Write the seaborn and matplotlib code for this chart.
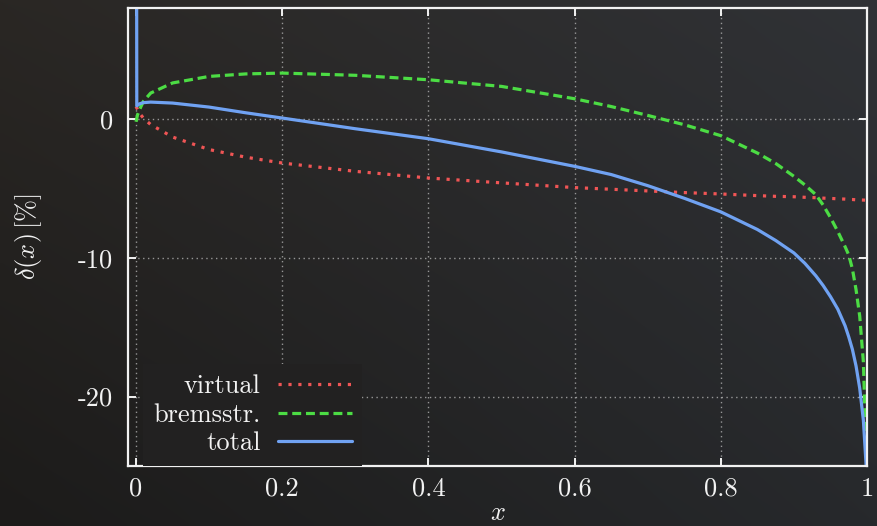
import numpy as np
import pandas as pd
import matplotlib
matplotlib.use("Agg")
import matplotlib.pyplot as plt
import seaborn as sns

# values
x_vals = [0.0, 0.002, 0.005, 0.01, 0.02, 0.05, 0.1, 0.15, 0.2, 0.3, 0.4, 0.5,
          0.6, 0.65, 0.7, 0.75, 0.8, 0.85, 0.875, 0.9, 0.915, 0.93, 0.94, 0.95,
          0.96, 0.97, 0.975, 0.98, 0.985, 0.99, 0.995, 1.0]
virtual = [0.9, 0.7, 0.4, 0.07, -0.4, -1.3, -2.2, -2.75, -3.17, -3.77, -4.25, -4.6,
           -4.94, -5.06, -5.18, -5.3, -5.4, -5.52, -5.57, -5.6, -5.64, -5.67, -5.7, -5.72,
           -5.75, -5.77, -5.79, -5.8, -5.82, -5.83, -5.84, -5.85]
bremsstr = [-0.2, 0.3, 0.7, 1.27, 1.87, 2.6, 3.07, 3.25, 3.31, 3.15, 2.83, 2.35,
            1.46, 0.9, 0.26, -0.41, -1.2, -2.45, -3.2, -4.13, -4.75, -5.45, -6.2, -7.1,
            -8.1, -9.2, -9.8, -10.8, -12.3, -14.2, -17.5, -26.0]
x_total = [0.0, 0.001, 0.005, 0.01, 0.02, 0.05, 0.1, 0.15, 0.2, 0.3, 0.4, 0.5,
           0.6, 0.65, 0.7, 0.75, 0.8, 0.85, 0.875, 0.9, 0.915, 0.93, 0.94, 0.95,
           0.96, 0.97, 0.975, 0.98, 0.985, 0.99, 0.995, 1.0]
total = [50.0, 0.95, 1.1, 1.18, 1.22, 1.15, 0.86, 0.45, 0.07, -0.7, -1.42, -2.37,
         -3.41, -4.0, -4.8, -5.71, -6.69, -7.96, -8.75, -9.65, -10.4, -11.3, -12.0, -12.8,
         -13.7, -14.9, -15.7, -16.6, -17.8, -19.4, -21.7, -26.0]

x_ticks = [0, 0.2, 0.4, 0.6, 0.8, 1.0]
x_ticklabels = ["0", "0.2", "0.4", "0.6", "0.8", "1"]
y_ticks = [0, -10, -20]
y_ticklabels = ["0", "-10", "-20"]

FG = "#f2f2f2"

sns.set_theme(style="dark")
plt.rcParams["font.family"] = ["cmr10", "DejaVu Serif"]
plt.rcParams["mathtext.fontset"] = "cm"
plt.rcParams["axes.unicode_minus"] = False

fig = plt.figure(figsize=(8.78, 5.26), dpi=100, facecolor="#252321")

# chalkboard-like backdrop: smooth colour gradient over the whole figure
corners = np.array([[[0x2a, 0x27, 0x24], [0x30, 0x32, 0x36]],
                    [[0x1c, 0x1b, 0x1a], [0x27, 0x29, 0x2c]]], dtype=float) / 255.0


def backdrop(u, v):
    return ((1 - v) * ((1 - u) * corners[0, 0] + u * corners[0, 1])
            + v * ((1 - u) * corners[1, 0] + u * corners[1, 1]))


bg_ax = fig.add_axes([0, 0, 1, 1], zorder=-10)
uu = np.linspace(0, 1, 200)[None, :, None]
vv = np.linspace(0, 1, 120)[:, None, None]
bg_ax.imshow(backdrop(uu, vv), aspect="auto", interpolation="bilinear")
bg_ax.axis("off")

ax = fig.add_axes([0.1458, 0.1141, 0.8417, 0.8707])
ax.patch.set_alpha(0)

df_v = pd.DataFrame({"x": x_vals, "y": virtual})
df_b = pd.DataFrame({"x": x_vals, "y": bremsstr})
df_t = pd.DataFrame({"x": x_total, "y": total})

sns.lineplot(data=df_v, x="x", y="y", ax=ax, color="#f05555", lw=2.3,
             linestyle=(0, (1, 2.1)), label="virtual", estimator=None, sort=False)
sns.lineplot(data=df_b, x="x", y="y", ax=ax, color="#4cdc44", lw=2.3,
             linestyle=(0, (2.8, 1.5)), label="bremsstr.", estimator=None, sort=False)
sns.lineplot(data=df_t, x="x", y="y", ax=ax, color="#70a2f2", lw=2.3,
             linestyle="-", label="total", estimator=None, sort=False)

ax.set_xlim(-0.011, 1.0)
ax.set_ylim(-25, 8)
ax.set_xticks(x_ticks)
ax.set_xticklabels(x_ticklabels)
ax.set_yticks(y_ticks)
ax.set_yticklabels(y_ticklabels)

ax.grid(True, color="#bdbdbd", linestyle=(0, (1, 2.5)), lw=1.0, alpha=0.75)
for s in ax.spines.values():
    s.set_visible(True)
    s.set_color(FG)
    s.set_linewidth(1.6)
ax.tick_params(axis="both", which="major", direction="in", length=6, width=1.4,
               color=FG, labelcolor=FG, labelsize=19, top=True, right=True,
               bottom=True, left=True)
ax.tick_params(axis="x", pad=8)
ax.tick_params(axis="y", pad=11)

ax.set_xlabel(r"$x$", color=FG, fontsize=19, labelpad=0)
ax.set_ylabel(r"$\delta(x)\,[\%]$", color=FG, fontsize=19, labelpad=24)

leg = ax.legend(loc="lower left", bbox_to_anchor=(0.02, 0.0), frameon=True,
                markerfirst=False, fontsize=19, handlelength=2.8,
                labelspacing=0.18, borderaxespad=0.0, handletextpad=0.65,
                borderpad=0.4, fancybox=False)
# legend box takes the backdrop colour found under it, so it only hides the grid
leg.get_frame().set_facecolor(backdrop(0.29, 0.8))
leg.get_frame().set_edgecolor("none")
leg.get_frame().set_alpha(1.0)
for t in leg.get_texts():
    t.set_color(FG)
    t.set_ha("right")
leg._legend_box.align = "right"

fig.savefig("out.png", dpi=100)
